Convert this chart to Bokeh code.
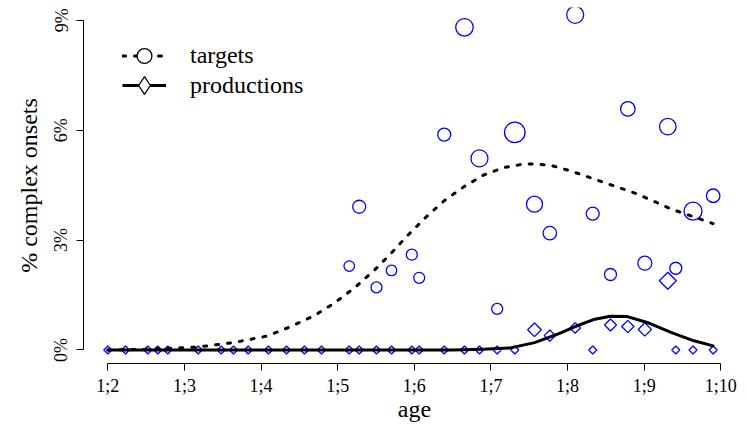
import numpy as np
from bokeh.plotting import figure
from bokeh.models import ColumnDataSource, Range1d, FixedTicker, Legend, LegendItem
from bokeh.embed import file_html
from bokeh.resources import INLINE

# ---- data (ages in months) ----
age = [14.000, 14.231, 14.522, 14.653, 14.783, 15.180, 15.480, 15.641, 15.832, 16.097,
       16.332, 16.567, 16.789, 17.151, 17.281, 17.507, 17.703, 17.968, 18.064, 18.391,
       18.655, 18.851, 19.082, 19.312, 19.569, 19.769, 20.100, 20.329, 20.561, 20.787,
       21.009, 21.309, 21.413, 21.638, 21.901]

nan = float("nan")
targets_pct = [nan] * 13 + [2.29, 3.91, 1.71, 2.17, 2.60, 1.97, 5.88, 8.81, 5.23, 1.12,
                            5.94, 3.98, 3.19, 9.15, 3.72, 2.06, 6.58, 2.37, 6.10, 2.23,
                            3.79, 4.21]
targets_marker = [0] * 13 + [10.5, 13, 11, 10.5, 11, 11, 13, 17.5, 17, 11,
                             20.5, 16, 13.5, 17, 13, 12, 14.5, 14, 16.5, 12,
                             18, 13.5]

productions_pct = [0] * 13 + [0, 0, 0, 0, 0, 0, 0, 0, 0, 0,
                              0, 0.55, 0.39, 0.60, 0, 0.68, 0.64, 0.56, 1.89, 0,
                              0, 0]
productions_marker = [8] * 13 + [8, 8, 8, 8, 8, 8, 8, 8, 8, 8,
                                 8, 13.7, 11.3, 10.7, 8, 12, 12.3, 13.3, 17, 8,
                                 8, 8]

# smoothed curves
targets_curve_age = [14.0, 14.56, 15.17, 15.64, 16.08, 16.38, 16.69, 16.95, 17.23, 17.47,
                     17.69, 17.92, 18.15, 18.39, 18.65, 18.91, 19.17, 19.41, 19.56, 19.78,
                     20.04, 20.48, 20.91, 21.35, 21.90]
targets_curve_pct = [0.0, 0.02, 0.08, 0.2, 0.38, 0.63, 0.93, 1.27, 1.71, 2.16,
                     2.62, 3.14, 3.62, 4.07, 4.46, 4.78, 4.98, 5.07, 5.08, 5.04,
                     4.89, 4.57, 4.26, 3.85, 3.45]
productions_curve_age = [14.0, 18.5, 18.9, 19.24, 19.57, 19.88, 20.10, 20.34, 20.56, 20.78,
                         21.04, 21.35, 21.65, 21.90]
productions_curve_pct = [0.0, 0.0, 0.02, 0.05, 0.2, 0.44, 0.64, 0.83, 0.92, 0.91,
                         0.75, 0.48, 0.25, 0.11]

x_ticks = [14, 15, 16, 17, 18, 19, 20, 21, 22]
x_labels = ["1;2", "1;3", "1;4", "1;5", "1;6", "1;7", "1;8", "1;9", "1;10"]
y_ticks = [0, 3, 6, 9]
y_labels = ["0%", "3%", "6%", "9%"]

FONT = "Liberation Serif"

p = figure(width=746, height=424, output_backend="svg", toolbar_location=None,
           x_range=Range1d(13.683, 22.323), y_range=Range1d(-0.37, 9.35),
           min_border_left=83, min_border_right=1, min_border_top=7, min_border_bottom=61)
p.xgrid.visible = False
p.ygrid.visible = False
p.outline_line_color = None
p.background_fill_color = "white"
p.border_fill_color = "white"

src_t = ColumnDataSource(dict(x=age, y=targets_pct, s=targets_marker))
p.scatter("x", "y", size="s", source=src_t, marker="circle", fill_color=None,
          line_color="blue", line_width=1.3)
src_p = ColumnDataSource(dict(x=age, y=productions_pct,
                              s=[d / np.sqrt(2) for d in productions_marker]))
p.scatter("x", "y", size="s", source=src_p, marker="square", angle=np.pi / 4,
          fill_color=None, line_color="blue", line_width=1.3)

p.line(targets_curve_age, targets_curve_pct, line_color="black", line_width=3,
       line_dash="3 9", line_cap="round", line_join="round")
p.line(productions_curve_age, productions_curve_pct, line_color="black", line_width=3,
       line_cap="round", line_join="round")

# legend-only renderers
empty = ColumnDataSource(dict(x=[nan], y=[nan]))
lt = p.line("x", "y", source=empty, line_color="black", line_width=3, line_dash="3 9",
            line_cap="round")
ct = p.scatter("x", "y", source=empty, marker="circle", fill_color="white",
               line_color="black", line_width=1.3)
lp = p.line("x", "y", source=empty, line_color="black", line_width=3)
dp = p.scatter("x", "y", source=empty, marker="diamond",
               fill_color="white", line_color="black", line_width=1.3)

common = dict(glyph_width=44, spacing=0, label_standoff=24, padding=0, margin=0,
              border_line_color=None, background_fill_alpha=0,
              label_text_font=FONT, label_text_font_size="24px",
              label_text_baseline="middle", label_text_color="black")
legend1 = Legend(items=[LegendItem(label="targets", renderers=[lt, ct])],
                 location=(39, 289), glyph_height=37, label_height=37, **common)
legend2 = Legend(items=[LegendItem(label="productions", renderers=[lp, dp])],
                 location=(39, 253), glyph_height=50, label_height=50, **common)
p.add_layout(legend1)
p.add_layout(legend2)

for ax in (p.xaxis[0], p.yaxis[0]):
    ax.axis_line_color = "black"
    ax.axis_line_width = 1
    ax.major_tick_line_color = "black"
    ax.major_tick_out = 7
    ax.major_tick_in = 0
    ax.minor_tick_line_color = None
    ax.major_label_text_font = FONT
    ax.major_label_text_font_size = "18px"
    ax.major_label_text_color = "black"
    ax.axis_label_text_font = FONT
    ax.axis_label_text_font_size = "24px"
    ax.axis_label_text_font_style = "normal"
    ax.axis_label_text_color = "black"
    ax.major_label_standoff = 5

p.xaxis.ticker = FixedTicker(ticks=x_ticks)
p.xaxis.major_label_overrides = {t: l for t, l in zip(x_ticks, x_labels)}
p.xaxis.bounds = (14, 22)
p.xaxis.axis_label = "age"
p.xaxis.axis_label_standoff = -3

p.yaxis.ticker = FixedTicker(ticks=y_ticks)
p.yaxis.major_label_overrides = {t: l for t, l in zip(y_ticks, y_labels)}
p.yaxis.bounds = (0, 9)
p.yaxis.major_label_orientation = "vertical"
p.yaxis.axis_label = "% complex onsets"
p.yaxis.axis_label_standoff = 7

open("out.html", "w").write(file_html(p, INLINE))
